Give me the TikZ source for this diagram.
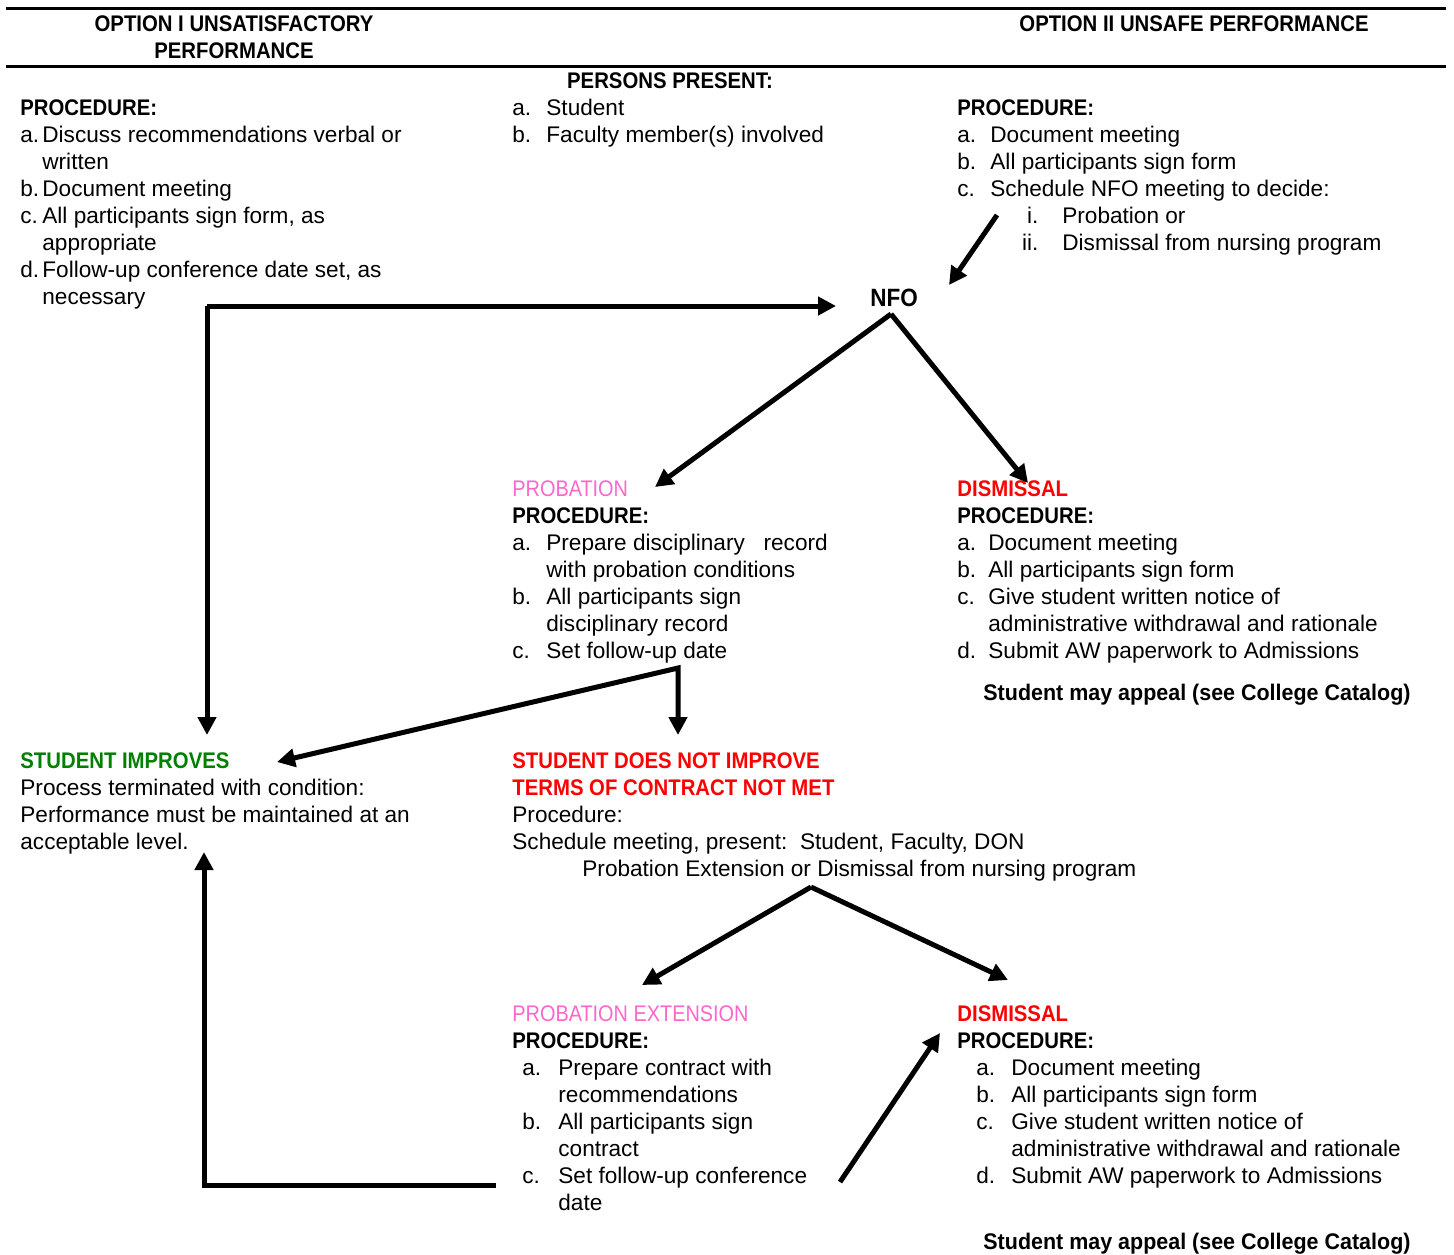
\documentclass[tikz,border=0pt]{standalone}
\usepackage{fontspec}
\setmainfont{Liberation Sans}
\newfontfamily\condfont[FakeStretch=0.9]{Liberation Sans}
\newfontfamily\narrowfont[FakeStretch=0.88]{Liberation Sans}
\newfontfamily\demifont[FakeStretch=0.95]{Liberation Sans}
\usetikzlibrary{arrows.meta}

\definecolor{probpink}{RGB}{255,102,204}
\definecolor{dismred}{RGB}{255,0,0}
\definecolor{okgreen}{RGB}{0,128,0}

\newcommand{\bhead}[1]{{\condfont\bfseries #1}}
\newcommand{\pinkhead}[1]{{\narrowfont\color{probpink}#1}}
\newcommand{\lbox}[2]{\makebox[#1][l]{#2}}

\tikzset{
  % multi-line nodes are placed by the baseline of their last line
  txt/.style={anchor=base west, inner sep=0pt, align=left, font=\fontsize{11.3}{13.5}\selectfont},
  arr/.style={line width=2.5pt, -{Triangle[length=9pt,width=9pt]}},
  rule/.style={line width=1.5pt}
}

\begin{document}
\begin{tikzpicture}[x=0.5pt,y=-0.5pt]
\useasboundingbox (0,0) rectangle (1454,1254);
% header
\draw[rule] (6,8) -- (1446,8);
\draw[rule] (6,66) -- (1446,66);
\node[txt, anchor=base, align=center] (optone) at (234,58) {\bhead{OPTION I UNSATISFACTORY}\\\bhead{PERFORMANCE}};
\node[txt, anchor=base] (opttwo) at (1194,31) {\bhead{OPTION II UNSAFE PERFORMANCE}};
\node[txt, anchor=base] (persons) at (670,88) {\bhead{PERSONS PRESENT:}};

% first row
\node[txt] (leftproc) at (20,304) {\bhead{PROCEDURE:}\\
  \lbox{11pt}{a.}Discuss recommendations verbal or\\
  \hspace*{11pt}written\\
  \lbox{11pt}{b.}Document meeting\\
  \lbox{11pt}{c.}All participants sign form, as\\
  \hspace*{11pt}appropriate\\
  \lbox{11pt}{d.}Follow-up conference date set, as\\
  \hspace*{11pt}necessary};
\node[txt] (present) at (512,142) {\lbox{17pt}{a.}Student\\
  \lbox{17pt}{b.}Faculty member(s) involved};
\node[txt] (rightproc) at (957,250) {\bhead{PROCEDURE:}\\
  \lbox{16.5pt}{a.}Document meeting\\
  \lbox{16.5pt}{b.}All participants sign form\\
  \lbox{16.5pt}{c.}Schedule NFO meeting to decide:\\
  \makebox[40.5pt][r]{i.}\hspace*{12pt}Probation or\\
  \makebox[40.5pt][r]{ii.}\hspace*{12pt}Dismissal from nursing program};
\node[txt, anchor=base, font=\fontsize{12.5}{14}\selectfont] (nfo) at (894,306) {\bhead{NFO}};

% second row
\node[txt] (prob) at (512,658) {\pinkhead{PROBATION}\\
  \bhead{PROCEDURE:}\\
  \lbox{17pt}{a.}Prepare disciplinary\ \ \ record\\
  \hspace*{17pt}with probation conditions\\
  \lbox{17pt}{b.}All participants sign\\
  \hspace*{17pt}disciplinary record\\
  \lbox{17pt}{c.}Set follow-up date};
\node[txt] (dism) at (957,658) {{\color{dismred}\bhead{DISMISSAL}}\\
  \bhead{PROCEDURE:}\\
  \lbox{15.5pt}{a.}Document meeting\\
  \lbox{15.5pt}{b.}All participants sign form\\
  \lbox{15.5pt}{c.}Give student written notice of\\
  \hspace*{15.5pt}administrative withdrawal and rationale\\
  \lbox{15.5pt}{d.}Submit AW paperwork to Admissions};
\node[txt] (appealone) at (983,700) {{\demifont\bfseries Student may appeal (see College Catalog)}};

% third row
\node[txt] (improves) at (20,849) {{\color{okgreen}\bhead{STUDENT IMPROVES}}\\
  Process terminated with condition:\\
  Performance must be maintained at an\\
  acceptable level.};
\node[txt] (notimprove) at (512,876) {{\color{dismred}\bhead{STUDENT DOES NOT IMPROVE}}\\
  {\color{dismred}\bhead{TERMS OF CONTRACT NOT MET}}\\
  Procedure:\\
  Schedule meeting, present:\ \ Student, Faculty, DON\\
  \hspace*{35pt}Probation Extension or Dismissal from nursing program};

% fourth row
\node[txt] (probext) at (512,1210) {\pinkhead{PROBATION EXTENSION}\\
  \bhead{PROCEDURE:}\\
  \hspace*{5pt}\lbox{18pt}{a.}Prepare contract with\\
  \hspace*{23pt}recommendations\\
  \hspace*{5pt}\lbox{18pt}{b.}All participants sign\\
  \hspace*{23pt}contract\\
  \hspace*{5pt}\lbox{18pt}{c.}Set follow-up conference\\
  \hspace*{23pt}date};
\node[txt] (dismtwo) at (957,1183) {{\color{dismred}\bhead{DISMISSAL}}\\
  \bhead{PROCEDURE:}\\
  \hspace*{9.5pt}\lbox{17.5pt}{a.}Document meeting\\
  \hspace*{9.5pt}\lbox{17.5pt}{b.}All participants sign form\\
  \hspace*{9.5pt}\lbox{17.5pt}{c.}Give student written notice of\\
  \hspace*{27pt}administrative withdrawal and rationale\\
  \hspace*{9.5pt}\lbox{17.5pt}{d.}Submit AW paperwork to Admissions};
\node[txt] (appealtwo) at (983,1249) {{\demifont\bfseries Student may appeal (see College Catalog)}};

% arrow ends
\coordinate (split) at (207,306);
\coordinate (nfoin) at (836,306);
\coordinate (improvesin) at (207,735);
\coordinate (decidefrom) at (997,215);
\coordinate (decideto) at (949,285);
\coordinate (nfofork) at (891,314);
\coordinate (probin) at (655,487);
\coordinate (dismin) at (1028,483);
\coordinate (probfork) at (678,668);
\coordinate (improvesside) at (277,762);
\coordinate (notimprovein) at (678,735);
\coordinate (extfork) at (811,887);
\coordinate (probextin) at (642,985);
\coordinate (dismtwoin) at (1008,980);
\coordinate (extout) at (496,1185);
\coordinate (extcorner) at (204,1185);
\coordinate (improvesup) at (204,852);
\coordinate (extup) at (840,1182);
\coordinate (dismtwoside) at (940,1033);

% arrows
\draw[arr] (split) -- (nfoin);
\draw[arr] (split) -- (improvesin);
\draw[arr] (decidefrom) -- (decideto);
\draw[arr] (nfofork) -- (probin);
\draw[arr] (nfofork) -- (dismin);
\draw[arr, {Triangle[length=9pt,width=9pt]}-{Triangle[length=9pt,width=9pt]}] (improvesside) -- (probfork) -- (notimprovein);
\draw[arr] (extfork) -- (probextin);
\draw[arr] (extfork) -- (dismtwoin);
\draw[arr] (extout) -- (extcorner) -- (improvesup);
\draw[arr] (extup) -- (dismtwoside);
\end{tikzpicture}
\end{document}
